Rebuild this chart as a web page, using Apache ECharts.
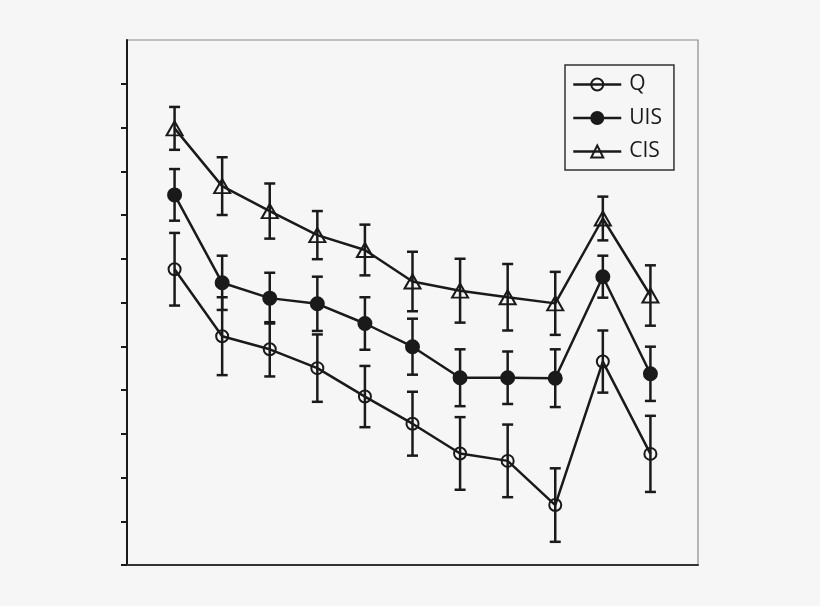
<!DOCTYPE html>
<html>
<head>
<meta charset="utf-8">
<script src="https://cdn.jsdelivr.net/npm/echarts@6/dist/echarts.min.js"></script>
<style>
  html, body { margin: 0; padding: 0; background: #f6f6f6; }
  #chart { width: 820px; height: 606px; }
</style>
</head>
<body>
<div id="chart"></div>
<script>
// x positions of the sessions (no labels shown on the original)
var sessions = [1, 2, 3, 4, 5, 6, 7, 8, 9, 10, 11];

// means and error half-widths
var qMean   = [6.76, 5.23, 4.93, 4.50, 3.85, 3.23, 2.55, 2.38, 1.37, 4.65, 2.54];
var qErr    = [0.83, 0.89, 0.62, 0.77, 0.70, 0.73, 0.83, 0.83, 0.84, 0.71, 0.87];
var uisMean = [8.46, 6.45, 6.10, 5.97, 5.52, 4.99, 4.28, 4.28, 4.27, 6.59, 4.37];
var uisErr  = [0.59, 0.62, 0.58, 0.62, 0.60, 0.64, 0.65, 0.60, 0.66, 0.48, 0.62];
var cisMean = [9.98, 8.66, 8.09, 7.54, 7.20, 6.48, 6.27, 6.12, 5.98, 7.92, 6.16];
var cisErr  = [0.49, 0.66, 0.63, 0.55, 0.58, 0.68, 0.73, 0.76, 0.72, 0.50, 0.69];

var yTicks = [0, 1, 2, 3, 4, 5, 6, 7, 8, 9, 10, 11];

var ink = '#1a1a1a';

function points(mean) {
  return sessions.map(function (x, i) { return [x, mean[i]]; });
}
function bars(mean, err) {
  return sessions.map(function (x, i) { return [x, mean[i] - err[i], mean[i] + err[i]]; });
}

// error bar with caps
function errorBar(params, api) {
  var lo = api.coord([api.value(0), api.value(1)]);
  var hi = api.coord([api.value(0), api.value(2)]);
  var cap = 5.5;
  var style = { stroke: ink, lineWidth: 2.5 };
  return {
    type: 'group',
    children: [
      { type: 'line', shape: { x1: lo[0], y1: lo[1], x2: hi[0], y2: hi[1] }, style: style },
      { type: 'line', shape: { x1: lo[0] - cap, y1: lo[1], x2: lo[0] + cap, y2: lo[1] }, style: style },
      { type: 'line', shape: { x1: hi[0] - cap, y1: hi[1], x2: hi[0] + cap, y2: hi[1] }, style: style }
    ]
  };
}

function lineSeries(name, mean, symbol, size, fill) {
  return {
    name: name,
    type: 'line',
    data: points(mean),
    symbol: symbol,
    symbolSize: size,
    showAllSymbol: true,
    z: 3,
    lineStyle: { color: ink, width: 2.5 },
    itemStyle: { color: fill, borderColor: ink, borderWidth: 2 },
    emphasis: { disabled: true }
  };
}

function errSeries(mean, err) {
  return {
    type: 'custom',
    renderItem: errorBar,
    data: bars(mean, err),
    encode: { x: 0, y: [1, 2] },
    z: 2,
    silent: true
  };
}

var chart = echarts.init(document.getElementById('chart'));

chart.setOption({
  backgroundColor: '#f6f6f6',
  animation: false,
  grid: {
    left: 127, right: 122, top: 40, bottom: 41,
    show: true, borderColor: '#8a8a8a', borderWidth: 1.2, backgroundColor: 'transparent'
  },
  legend: {
    orient: 'vertical',
    left: 565, top: 65,
    padding: [9, 12, 8, 7],
    itemWidth: 48, itemHeight: 15, itemGap: 12.5,
    borderColor: '#333', borderWidth: 1.5,
    lineStyle: { width: 2.5, color: ink },
    textStyle: { fontFamily: 'Open Sans', fontSize: 21, color: '#1a1a1a', lineHeight: 20, padding: [0, 0, 0, 3] },
    data: ['Q', 'UIS', 'CIS']
  },
  xAxis: {
    type: 'value', min: 0, max: 12,
    axisLine: { show: true, lineStyle: { color: '#333', width: 2 } },
    axisTick: { show: false },
    axisLabel: { show: false },
    splitLine: { show: false }
  },
  yAxis: {
    type: 'value', min: 0, max: 12, interval: 1,
    axisLine: { show: true, lineStyle: { color: ink, width: 2 } },
    axisTick: { show: true, length: 6, customValues: yTicks, lineStyle: { color: ink, width: 2 } },
    axisLabel: { show: false },
    splitLine: { show: false }
  },
  series: [
    errSeries(qMean, qErr),
    errSeries(uisMean, uisErr),
    errSeries(cisMean, cisErr),
    lineSeries('Q', qMean, 'circle', 12, 'rgba(0,0,0,0)'),
    lineSeries('UIS', uisMean, 'circle', 13, ink),
    lineSeries('CIS', cisMean, 'triangle', [16, 14], 'rgba(0,0,0,0)')
  ]
});
</script>
</body>
</html>
